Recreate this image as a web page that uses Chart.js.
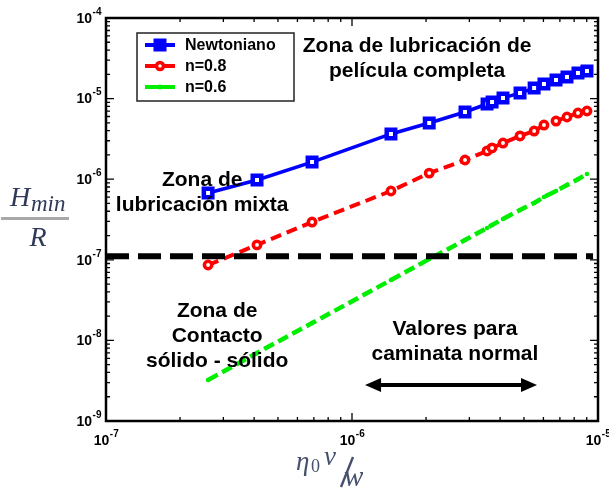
<!DOCTYPE html>
<html>
<head>
<meta charset="utf-8">
<script src="https://cdn.jsdelivr.net/npm/chart.js@4.4.0/dist/chart.umd.min.js"></script>
<style>
  html, body { margin: 0; padding: 0; background: #fff; }
</style>
</head>
<body>
<canvas id="chart" width="609" height="492"></canvas>
<script>
// -------------------- Data --------------------
const seriesNames = ["Newtoniano", "n=0.8", "n=0.6"];

const xNewt = [2.60e-7, 4.11e-7, 6.88e-7, 1.44e-6, 2.06e-6, 2.88e-6, 3.54e-6, 3.71e-6, 4.11e-6, 4.82e-6, 5.50e-6, 6.03e-6, 6.75e-6, 7.48e-6, 8.29e-6, 9.02e-6];
const yNewt = [6.74e-7, 9.77e-7, 1.63e-6, 3.64e-6, 4.98e-6, 6.82e-6, 8.57e-6, 9.08e-6, 1.02e-5, 1.17e-5, 1.35e-5, 1.52e-5, 1.70e-5, 1.85e-5, 2.08e-5, 2.20e-5];

const xN08 = [2.60e-7, 4.11e-7, 6.88e-7, 1.44e-6, 2.06e-6, 2.88e-6, 3.54e-6, 3.71e-6, 4.11e-6, 4.82e-6, 5.50e-6, 6.03e-6, 6.75e-6, 7.48e-6, 8.29e-6, 9.02e-6];
const yN08 = [8.62e-8, 1.53e-7, 2.94e-7, 7.14e-7, 1.19e-6, 1.73e-6, 2.24e-6, 2.44e-6, 2.81e-6, 3.44e-6, 3.96e-6, 4.70e-6, 5.27e-6, 5.91e-6, 6.62e-6, 7.02e-6];

const xN06 = [2.60e-7, 4.11e-7, 6.88e-7, 1.44e-6, 2.06e-6, 2.88e-6, 3.54e-6, 3.71e-6, 4.11e-6, 4.82e-6, 5.50e-6, 6.03e-6, 6.75e-6, 7.48e-6, 8.29e-6, 9.02e-6];
const yN06 = [3.23e-9, 6.98e-9, 1.64e-8, 5.61e-8, 1.02e-7, 1.76e-7, 2.48e-7, 2.70e-7, 3.21e-7, 4.15e-7, 5.07e-7, 6.01e-7, 7.14e-7, 8.47e-7, 1.00e-6, 1.16e-6];

// film limit (dashed black line) and "walking" range arrow
const limitX = [1e-7, 9.55e-6];
const limitY = 1.11e-7;
const arrowX = [1.13e-6, 5.65e-6];
const arrowY = 2.80e-9;

// axis ranges / tick exponents
const xExps = [-7, -6, -5];
const yExps = [-9, -8, -7, -6, -5, -4];

// region labels: anchor (data coords, centre of first line) + lines
const notes = [
  { x: 1.84e-6, y: 4.50e-5, lines: ["Zona de lubricación de", "película completa"] },
  { x: 2.46e-7, y: 9.77e-7, lines: ["Zona de", "lubricación mixta"] },
  { x: 2.83e-7, y: 2.32e-8, lines: ["Zona de", "Contacto", "sólido - sólido"] },
  { x: 2.62e-6, y: 1.38e-8, lines: ["Valores para", "caminata normal"] }
];

const pts = (xs, ys) => xs.map((x, i) => ({ x: x, y: ys[i] }));

// -------------------- Helpers --------------------
const SANS = '"Liberation Sans", Arial, sans-serif';
const SERIF = '"Liberation Serif", "DejaVu Serif", serif';

function powLabel(ctx, exp, x, y, align) {
  ctx.font = "bold 14px " + SANS;
  const w1 = ctx.measureText("10").width;
  ctx.font = "bold 10px " + SANS;
  const sup = "-" + Math.abs(exp);
  const w2 = ctx.measureText(sup).width;
  const left = align === "right" ? x - w1 - w2 : x - (w1 + w2) / 2;
  ctx.fillStyle = "#000";
  ctx.textAlign = "left";
  ctx.textBaseline = "middle";
  ctx.font = "bold 14px " + SANS;
  ctx.fillText("10", left, y);
  ctx.font = "bold 10px " + SANS;
  ctx.fillText(sup, left + w1 + 0.5, y - 7);
}

function drawMarker(ctx, style, x, y, color) {
  ctx.save();
  ctx.strokeStyle = color;
  ctx.fillStyle = "#fff";
  if (style === "rect") {
    ctx.fillStyle = color;
    ctx.fillRect(x - 6.5, y - 6.5, 13, 13);
  } else if (style === "circle") {
    ctx.lineWidth = 3.5;
    ctx.beginPath(); ctx.arc(x, y, 3.5, 0, Math.PI * 2);
    ctx.fill(); ctx.stroke();
  } else {
    ctx.fillStyle = color;
    ctx.beginPath(); ctx.arc(x, y, 2.5, 0, Math.PI * 2); ctx.fill();
  }
  ctx.restore();
}

// -------------------- Overlay plugin (frame, ticks, labels, legend) --------------------
const overlay = {
  id: "overlay",
  afterDraw(chart) {
    const ctx = chart.ctx;
    const xs = chart.scales.x, ys = chart.scales.y;
    const a = chart.chartArea;
    ctx.save();

    // frame
    ctx.strokeStyle = "#000";
    ctx.lineWidth = 2.5;
    ctx.strokeRect(a.left, a.top, a.right - a.left, a.bottom - a.top);

    // inward ticks on all four sides
    ctx.lineWidth = 1.3;
    ctx.beginPath();
    for (let d = xExps[0]; d < xExps[xExps.length - 1]; d++) {
      for (let m = 1; m <= 9; m++) {
        const px = xs.getPixelForValue(m * Math.pow(10, d));
        const len = m === 1 ? 8 : 4;
        ctx.moveTo(px, a.bottom); ctx.lineTo(px, a.bottom - len);
        ctx.moveTo(px, a.top); ctx.lineTo(px, a.top + len);
      }
    }
    for (let d = yExps[0]; d < yExps[yExps.length - 1]; d++) {
      for (let m = 1; m <= 9; m++) {
        const py = ys.getPixelForValue(m * Math.pow(10, d));
        const len = m === 1 ? 8 : 4;
        ctx.moveTo(a.left, py); ctx.lineTo(a.left + len, py);
        ctx.moveTo(a.right, py); ctx.lineTo(a.right - len, py);
      }
    }
    ctx.stroke();

    // tick labels
    xExps.forEach(e => powLabel(ctx, e, xs.getPixelForValue(Math.pow(10, e)), a.bottom + 20, "center"));
    yExps.forEach(e => powLabel(ctx, e, a.left - 5, ys.getPixelForValue(Math.pow(10, e)) + 1, "right"));

    // region labels
    ctx.fillStyle = "#000";
    ctx.font = "bold 21px " + SANS;
    ctx.textAlign = "center";
    ctx.textBaseline = "middle";
    notes.forEach(n => {
      const cx = xs.getPixelForValue(n.x), cy = ys.getPixelForValue(n.y);
      n.lines.forEach((t, i) => ctx.fillText(t, cx, cy + i * 25));
    });

    // double arrow
    const ax0 = xs.getPixelForValue(arrowX[0]), ax1 = xs.getPixelForValue(arrowX[1]);
    const ay = ys.getPixelForValue(arrowY);
    ctx.strokeStyle = "#000"; ctx.fillStyle = "#000"; ctx.lineWidth = 4;
    ctx.beginPath(); ctx.moveTo(ax0 + 10, ay); ctx.lineTo(ax1 - 10, ay); ctx.stroke();
    ctx.beginPath();
    ctx.moveTo(ax0, ay); ctx.lineTo(ax0 + 16, ay - 7); ctx.lineTo(ax0 + 16, ay + 7); ctx.closePath();
    ctx.moveTo(ax1, ay); ctx.lineTo(ax1 - 16, ay - 7); ctx.lineTo(ax1 - 16, ay + 7); ctx.closePath();
    ctx.fill();

    // legend box
    const lx = a.left + 31, ly = a.top + 15;
    ctx.fillStyle = "#fff";
    ctx.fillRect(lx, ly, 157, 68);
    ctx.strokeStyle = "#222"; ctx.lineWidth = 1.5;
    ctx.strokeRect(lx, ly, 157, 68);
    const legendStyles = [["#0000ff", "rect"], ["#ff0000", "circle"], ["#00ee00", "dot"]];
    seriesNames.forEach((name, i) => {
      const ry = ly + 12 + i * 21;
      ctx.strokeStyle = legendStyles[i][0];
      ctx.lineWidth = 4;
      ctx.beginPath(); ctx.moveTo(lx + 8, ry); ctx.lineTo(lx + 38, ry); ctx.stroke();
      drawMarker(ctx, legendStyles[i][1], lx + 23, ry, legendStyles[i][0]);
      ctx.fillStyle = "#000";
      ctx.font = "bold 16px " + SANS;
      ctx.textAlign = "left"; ctx.textBaseline = "middle";
      ctx.fillText(name, lx + 48, ry + 1);
    });

    // y axis title  H_min / R
    ctx.fillStyle = "#2f3a58";
    ctx.textBaseline = "alphabetic";
    ctx.textAlign = "left";
    ctx.font = "italic 28px " + SERIF;
    ctx.fillText("H", 10, 206);
    ctx.font = "italic 23px " + SERIF;
    ctx.fillText("min", 31, 211);
    ctx.fillStyle = "#a8a8a8";
    ctx.fillRect(1, 217, 68, 3);
    ctx.fillStyle = "#2f3a58";
    ctx.font = "italic 28px " + SERIF;
    ctx.textAlign = "center";
    ctx.fillText("R", 38, 246);

    // x axis title  eta_0 v / w
    ctx.fillStyle = "#46506e";
    ctx.textAlign = "left";
    ctx.font = "italic 27px " + SERIF;
    ctx.fillText("\u03b7", 296, 470);
    ctx.font = "18px " + SERIF;
    ctx.fillText("0", 311, 472);
    ctx.font = "italic 27px " + SERIF;
    ctx.fillText("v", 324, 465);
    ctx.lineWidth = 2.4; ctx.strokeStyle = "#46506e";
    ctx.beginPath(); ctx.moveTo(353, 457); ctx.lineTo(341, 487); ctx.stroke();
    ctx.font = "italic 29px " + SERIF;
    ctx.fillText("w", 344, 486);

    ctx.restore();
  }
};

// -------------------- Chart --------------------
new Chart(document.getElementById("chart"), {
  type: "line",
  data: {
    datasets: [
      {
        label: seriesNames[0],
        data: pts(xNewt, yNewt),
        borderColor: "#0000ff",
        borderWidth: 3.5,
        pointStyle: "rect",
        pointRadius: 6,
        pointBorderWidth: 4.5,
        pointBackgroundColor: "#ffffff",
        pointBorderColor: "#0000ff",
        order: 3
      },
      {
        label: seriesNames[1],
        data: pts(xN08, yN08),
        borderColor: "#ff0000",
        borderWidth: 4,
        borderDash: [11, 6],
        pointStyle: "circle",
        pointRadius: 3.7,
        pointBorderWidth: 3.5,
        pointBackgroundColor: "#ffffff",
        pointBorderColor: "#ff0000",
        order: 2
      },
      {
        label: seriesNames[2],
        data: pts(xN06, yN06),
        borderColor: "#00ee00",
        borderWidth: 4.5,
        borderDash: [11, 5],
        pointStyle: "circle",
        pointRadius: 2.3,
        pointBorderWidth: 0,
        pointBackgroundColor: "#00ee00",
        order: 4
      },
      {
        label: "limite",
        data: limitX.map(x => ({ x: x, y: limitY })),
        borderColor: "#000",
        borderWidth: 6,
        borderDash: [23, 9],
        pointRadius: 0,
        order: 1
      }
    ]
  },
  options: {
    responsive: false,
    animation: false,
    layout: { padding: { left: 106, top: 18, right: 11, bottom: 71 } },
    plugins: { legend: { display: false }, tooltip: { enabled: false } },
    scales: {
      x: { type: "logarithmic", min: 1e-7, max: 1e-5, display: false },
      y: { type: "logarithmic", min: 1e-9, max: 1e-4, display: false }
    }
  },
  plugins: [overlay]
});
</script>
</body>
</html>
